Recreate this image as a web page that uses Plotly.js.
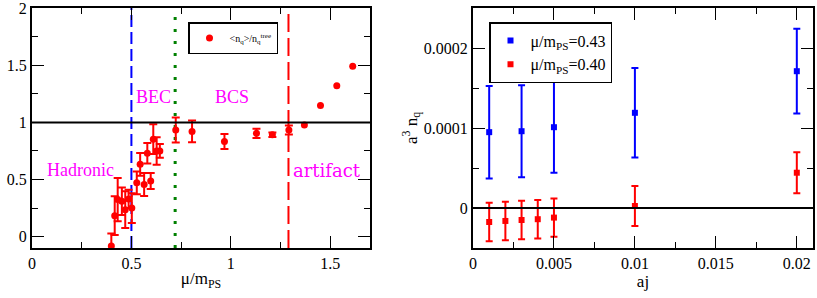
<!DOCTYPE html>
<html>
<head>
<meta charset="utf-8">
<script src="https://cdn.plot.ly/plotly-3.0.1.min.js"></script>
<style>html,body{margin:0;padding:0;background:#fff;}#chart{width:817px;height:298px;}</style>
</head>
<body>
<div id="chart"></div>
<script>
// ---- Left panel: <n_q>/n_q^tree vs mu/m_PS ----
const muRatio = [0.399, 0.416, 0.431, 0.452, 0.469, 0.486, 0.502, 0.527, 0.544, 0.564, 0.580, 0.597, 0.610, 0.627, 0.643, 0.723, 0.805, 0.968, 1.129, 1.209, 1.292];
const nqRatio = [-0.082, 0.183, 0.324, 0.309, 0.236, 0.330, 0.250, 0.471, 0.633, 0.456, 0.730, 0.486, 0.853, 0.750, 0.750, 0.933, 0.921, 0.833, 0.904, 0.892, 0.933];
const nqRatioErr = [0.11, 0.17, 0.19, 0.12, 0.16, 0.08, 0.13, 0.10, 0.10, 0.10, 0.09, 0.07, 0.13, 0.12, 0.06, 0.11, 0.095, 0.065, 0.04, 0.02, 0.04];
const muRatioHigh = [1.370, 1.451, 1.533, 1.613];
const nqRatioHigh = [0.977, 1.147, 1.321, 1.492];

const leftXTicks = [0, 0.5, 1, 1.5];
const leftXLabels = ["0", "0.5", "1", "1.5"];
const leftXMinor = [0.25, 0.75, 1.25];
const leftYTicks = [0, 0.5, 1, 1.5, 2];
const leftYLabels = ["0", "0.5", "1", "1.5", "2"];
const leftYMinor = [0.25, 0.75, 1.25, 1.75];

const becLine = 0.5, bcsLine = 0.72, artifactLine = 1.29, unitLine = 1;
const regionLabels = ["BEC", "BCS", "Hadronic", "artifact"];
const regionX = [0.611, 1.005, 0.244, 1.484];
const regionY = [1.224, 1.224, 0.58, 0.58];
const regionFonts = ["Liberation Serif", "Times New Roman", "Liberation Serif", "DejaVu Serif"];

// ---- Right panel: a^3 n_q vs aj ----
const aj43 = [0.001, 0.003, 0.005, 0.01, 0.02];
const nq43 = [0.0000948, 0.000096, 0.000101, 0.000119, 0.000171];
const nq43Err = [0.0000578, 0.0000575, 0.000057, 0.000056, 0.000053];
const aj40 = [0.001, 0.002, 0.003, 0.004, 0.005, 0.01, 0.02];
const nq40 = [-0.0000175, -0.0000162, -0.000015, -0.000014, -0.000012, 0.0000025, 0.0000441];
const nq40Err = [0.000024, 0.000024, 0.000024, 0.000024, 0.000024, 0.000025, 0.0000257];

const rightXTicks = [0, 0.005, 0.01, 0.015, 0.02];
const rightXLabels = ["0", "0.005", "0.01", "0.015", "0.02"];
const rightXMinor = [0.0025, 0.0075, 0.0125, 0.0175];
const rightYTicks = [0, 0.0001, 0.0002];
const rightYLabels = ["0", "0.0001", "0.0002"];
const rightYMinor = [0.00005, 0.00015];

const FONT = 'Liberation Serif';
const W = 817, H = 298;
const px = v => v / W;
const py = v => 1 - v / H;

const traces = [
  {
    x: muRatio, y: nqRatio, type: 'scatter', mode: 'markers',
    name: '&lt;n<sub>q</sub>&gt;/n<sub>q</sub><sup>tree</sup>',
    marker: {color: '#ff0000', size: 7, symbol: 'circle'},
    error_y: {type: 'data', array: nqRatioErr, visible: true, color: '#ff0000', thickness: 2, width: 4},
    xaxis: 'x', yaxis: 'y', legend: 'legend'
  },
  {
    x: muRatioHigh, y: nqRatioHigh, type: 'scatter', mode: 'markers',
    showlegend: false,
    marker: {color: '#ff0000', size: 7, symbol: 'circle'},
    xaxis: 'x', yaxis: 'y'
  },
  {
    x: aj43, y: nq43, type: 'scatter', mode: 'markers',
    name: 'μ/m<sub>PS</sub>=0.43',
    marker: {color: '#0000ff', size: 6, symbol: 'square'},
    error_y: {type: 'data', array: nq43Err, visible: true, color: '#0000ff', thickness: 2, width: 3.5},
    xaxis: 'x2', yaxis: 'y2', legend: 'legend2'
  },
  {
    x: aj40, y: nq40, type: 'scatter', mode: 'markers',
    name: 'μ/m<sub>PS</sub>=0.40',
    marker: {color: '#ff0000', size: 6, symbol: 'square'},
    error_y: {type: 'data', array: nq40Err, visible: true, color: '#ff0000', thickness: 2, width: 3.5},
    xaxis: 'x2', yaxis: 'y2', legend: 'legend2'
  }
];

const axisCommon = {
  showgrid: false, zeroline: false, showline: true, linewidth: 2, linecolor: '#000',
  mirror: 'allticks', ticks: 'inside', ticklen: 12, tickwidth: 1, tickcolor: '#000',
  tickmode: 'array', ticklabeloverflow: 'allow', fixedrange: true
};
const minorOf = vals => ({ticks: 'inside', ticklen: 6, tickwidth: 1, tickcolor: '#000', tickmode: 'array', tickvals: vals});

const yDom = [1 - 248 / H, 1 - 8 / H];

const shapes = [
  {type: 'line', xref: 'x domain', yref: 'y', x0: 0, x1: 1, y0: unitLine, y1: unitLine, line: {color: '#000', width: 2}},
  {type: 'line', xref: 'x', yref: 'y domain', x0: becLine, x1: becLine, y0: 0, y1: 1, line: {color: '#0000ff', width: 2, dash: '12px,5px'}, layer: 'below'},
  {type: 'line', xref: 'x', yref: 'y domain', x0: bcsLine, x1: bcsLine, y0: 0, y1: 1, line: {color: '#008000', width: 3, dash: '3px,9px'}, layer: 'below'},
  {type: 'line', xref: 'x', yref: 'y domain', x0: artifactLine, x1: artifactLine, y0: 0, y1: 1, line: {color: '#ff0000', width: 2, dash: '18px,6px'}, layer: 'below'},
  {type: 'line', xref: 'x2 domain', yref: 'y2', x0: 0, x1: 1, y0: 0, y1: 0, line: {color: '#000', width: 2}}
];

const annotations = regionLabels.map((t, i) => ({
  text: t, x: regionX[i], y: regionY[i], xref: 'x', yref: 'y', showarrow: false,
  font: {family: regionFonts[i], size: 18, color: '#ff00ff'}, xanchor: 'center', yanchor: 'middle'
}));

const layout = {
  width: W, height: H,
  margin: {l: 0, r: 0, t: 0, b: 0},
  paper_bgcolor: '#fff', plot_bgcolor: '#fff',
  font: {family: FONT, size: 16, color: '#000'},
  showlegend: true,
  xaxis: Object.assign({}, axisCommon, {
    domain: [px(32), px(370)], range: [0, 1.7], anchor: 'y',
    tickvals: leftXTicks, ticktext: leftXLabels, minor: minorOf(leftXMinor),
    title: {text: 'μ/m<sub>PS</sub>', font: {size: 17}, standoff: 1}
  }),
  yaxis: Object.assign({}, axisCommon, {
    domain: yDom, range: [-0.1, 2.002], anchor: 'x',
    tickvals: leftYTicks, ticktext: leftYLabels, minor: minorOf(leftYMinor)
  }),
  xaxis2: Object.assign({}, axisCommon, {
    domain: [px(473), px(813)], range: [0, 0.021], anchor: 'y2',
    tickvals: rightXTicks, ticktext: rightXLabels, minor: minorOf(rightXMinor),
    title: {text: 'aj', font: {size: 17}, standoff: 1}
  }),
  yaxis2: Object.assign({}, axisCommon, {
    domain: yDom, range: [-0.00005, 0.00025], anchor: 'x2',
    tickvals: rightYTicks, ticktext: rightYLabels, minor: minorOf(rightYMinor),
    title: {text: 'a<sup>3</sup> n<sub>q</sub>', font: {size: 17}, standoff: 2}
  }),
  legend: {
    x: px(188), y: py(22), xanchor: 'left', yanchor: 'top',
    bgcolor: '#fff', bordercolor: '#000', borderwidth: 1.5,
    font: {size: 10}, itemclick: false, itemdoubleclick: false
  },
  legend2: {
    x: px(489), y: py(22), xanchor: 'left', yanchor: 'top',
    bgcolor: '#fff', bordercolor: '#000', borderwidth: 1.5,
    font: {size: 16}, itemclick: false, itemdoubleclick: false
  },
  shapes: shapes,
  annotations: annotations
};

Plotly.newPlot('chart', traces, layout, {staticPlot: true, displayModeBar: false});
</script>
</body>
</html>
